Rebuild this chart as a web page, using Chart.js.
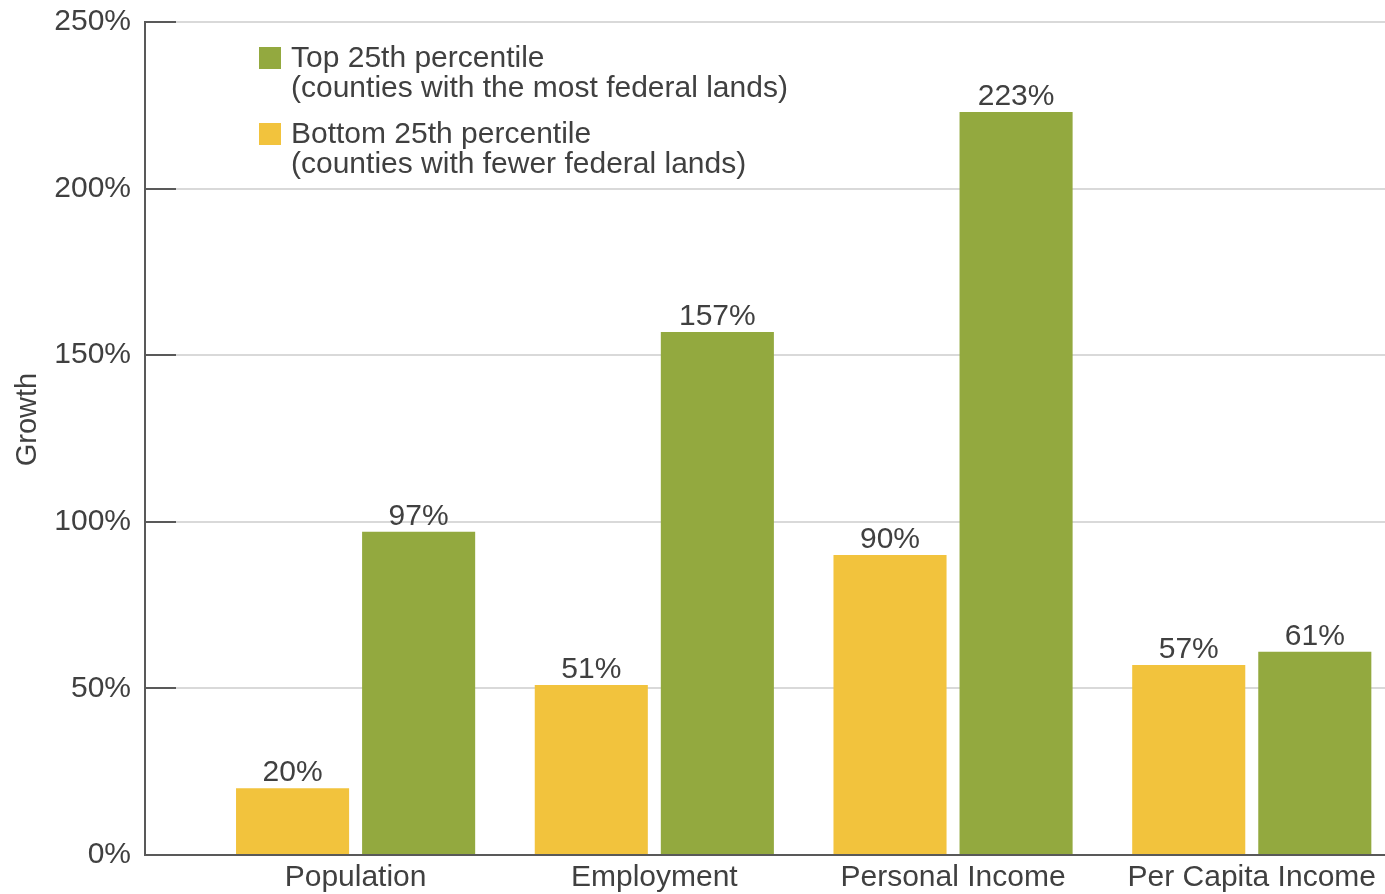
<!DOCTYPE html>
<html>
<head>
<meta charset="utf-8">
<script src="https://cdn.jsdelivr.net/npm/chart.js@4.4.1/dist/chart.umd.min.js"></script>
<style>
  html, body { margin: 0; padding: 0; background: #ffffff; overflow: hidden; }
  #wrap { position: relative; width: 1385px; height: 894px; }
</style>
</head>
<body>
<div id="wrap"><canvas id="c"></canvas></div>
<script>
const categories = ['Population', 'Employment', 'Personal Income', 'Per Capita Income'];
const bottomValues = [20, 51, 90, 57];
const topValues = [97, 157, 223, 61];
const bottomLabel = ['Bottom 25th percentile', '(counties with fewer federal lands)'];
const topLabel = ['Top 25th percentile', '(counties with the most federal lands)'];
const yTicks = [0, 50, 100, 150, 200, 250];
const yTitle = 'Growth';

const YELLOW = '#F2C33D';
const GREEN = '#93A93F';
const TEXT = '#404040';
const AXIS = '#595959';
const GRID = '#d9d9d9';
const FONT = "'Liberation Sans', Arial, Helvetica, sans-serif";
const FS = 30;

const toPoints = vals => vals.map((v, i) => ({ x: i, y: v }));

const valueLabels = {
  id: 'valueLabels',
  afterDatasetsDraw(chart) {
    const ctx = chart.ctx;
    ctx.save();
    ctx.font = FS + 'px ' + FONT;
    ctx.fillStyle = TEXT;
    ctx.textAlign = 'center';
    ctx.textBaseline = 'alphabetic';
    chart.data.datasets.forEach((ds, di) => {
      const meta = chart.getDatasetMeta(di);
      meta.data.forEach((bar, i) => {
        ctx.fillText(ds.data[i].y + '%', bar.x, bar.y - 7);
      });
    });
    ctx.restore();
  }
};

const innerTicks = {
  id: 'innerTicks',
  afterDraw(chart) {
    const ctx = chart.ctx;
    const y = chart.scales.y;
    const area = chart.chartArea;
    ctx.save();
    ctx.strokeStyle = AXIS;
    ctx.lineWidth = 2;
    yTicks.forEach(t => {
      const py = Math.round(y.getPixelForValue(t));
      ctx.beginPath();
      ctx.moveTo(area.left, py);
      ctx.lineTo(area.left + 31, py);
      ctx.stroke();
    });
    // axis title
    ctx.font = '29px ' + FONT;
    ctx.fillStyle = TEXT;
    ctx.textAlign = 'center';
    ctx.textBaseline = 'middle';
    ctx.translate(area.left - 117, (area.top + area.bottom) / 2 - 19);
    ctx.rotate(-Math.PI / 2);
    ctx.fillText(yTitle, 0, 0);
    ctx.restore();
  }
};

const customLegend = {
  id: 'customLegend',
  afterDraw(chart) {
    const ctx = chart.ctx;
    const area = chart.chartArea;
    const x0 = area.left + 114;
    let yTop = area.top + 25;
    const order = [1, 0];
    ctx.save();
    ctx.font = FS + 'px ' + FONT;
    ctx.textAlign = 'left';
    ctx.textBaseline = 'middle';
    order.forEach(di => {
      const ds = chart.data.datasets[di];
      ctx.fillStyle = ds.backgroundColor;
      ctx.fillRect(x0, yTop, 22, 22);
      ctx.fillStyle = TEXT;
      ds.legendText.forEach((line, li) => {
        ctx.fillText(line, x0 + 32, yTop + 12 + li * 30);
      });
      yTop += 76;
    });
    ctx.restore();
  }
};

new Chart(document.getElementById('c'), {
  type: 'bar',
  data: {
    datasets: [
      { label: bottomLabel.join(' '), legendText: bottomLabel, data: toPoints(bottomValues), backgroundColor: YELLOW, borderWidth: 0 },
      { label: topLabel.join(' '), legendText: topLabel, data: toPoints(topValues), backgroundColor: GREEN, borderWidth: 0 }
    ]
  },
  options: {
    responsive: true,
    maintainAspectRatio: false,
    animation: false,
    devicePixelRatio: 1,
    categoryPercentage: 0.844,
    barPercentage: 0.897,
    layout: { padding: { top: 22, right: 0, bottom: 0, left: 0 } },
    plugins: {
      legend: { display: false },
      tooltip: { enabled: false }
    },
    scales: {
      x: {
        type: 'linear',
        min: -0.705,
        max: 3.446,
        offset: false,
        afterFit: s => { s.height = 39; },
        grid: { display: false, drawTicks: false, offset: false },
        border: { display: true, color: AXIS, width: 2 },
        afterBuildTicks: s => { s.ticks = categories.map((c, i) => ({ value: i })); },
        ticks: {
          autoSkip: false,
          maxRotation: 0,
          padding: 8,
          color: TEXT,
          font: { family: FONT, size: FS, lineHeight: 1 },
          callback: (v, i) => categories[i]
        }
      },
      y: {
        min: 0,
        max: 250,
        afterFit: s => { s.width = 145; },
        grid: { color: GRID, lineWidth: 2, drawTicks: true, tickLength: 14, tickColor: 'rgba(0,0,0,0)' },
        border: { display: true, color: AXIS, width: 2 },
        ticks: {
          stepSize: 50,
          padding: 0,
          color: TEXT,
          font: { family: FONT, size: FS },
          callback: v => v + '%'
        }
      }
    }
  },
  plugins: [valueLabels, innerTicks, customLegend]
});
</script>
</body>
</html>
